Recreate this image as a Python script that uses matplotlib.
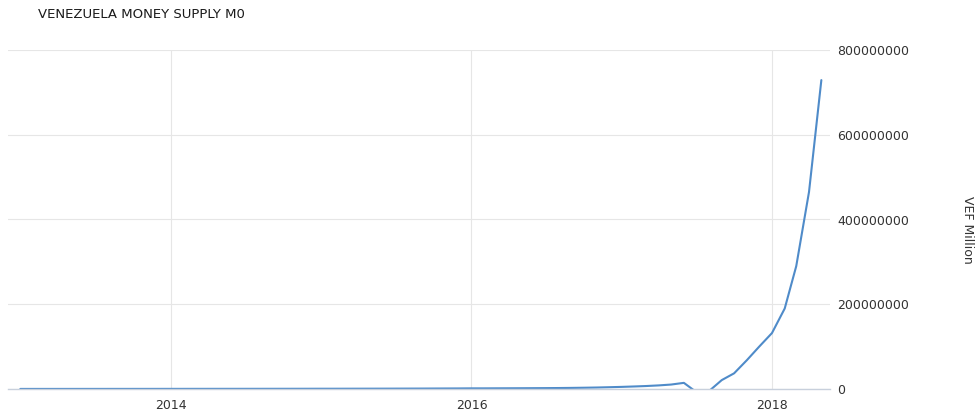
import matplotlib
matplotlib.use("Agg")
import matplotlib.pyplot as plt
import numpy as np
import pandas as pd

# Monthly values (month-end), Dec 2012 .. Apr 2018, in millions of "VEF Million"
dates = pd.date_range("2012-12-31", "2018-04-30", freq="ME")
values_m = [
    0.19,
    0.19, 0.20, 0.20, 0.21, 0.22, 0.23, 0.24, 0.25, 0.26, 0.27, 0.29, 0.33,
    0.33, 0.35, 0.36, 0.38, 0.40, 0.42, 0.44, 0.46, 0.49, 0.52, 0.56, 0.62,
    0.62, 0.66, 0.70, 0.75, 0.80, 0.86, 0.93, 1.0, 1.1, 1.2, 1.3, 1.5,
    1.5, 1.6, 1.7, 1.8, 1.95, 2.1, 2.3, 2.6, 3.0, 3.5, 4.2, 5.0,
    6.0, 7.0, 8.5, 10.5, 14.5, -7.0, -5.0, 21.0, 37.0, 68.0, 100.0, 132.0,
    190.0, 290.0, 465.0, 729.0,
]
year_ticks = ["2014", "2016", "2018"]
y_ticks = [0, 200000000, 400000000, 600000000, 800000000]
title = "VENEZUELA MONEY SUPPLY M0"
ylabel = "VEF Million"

values = np.array(values_m) * 1e6

fig = plt.figure(figsize=(9.77, 4.11), dpi=100)
ax = fig.add_axes([8 / 977, 22 / 411, 822 / 977, 339 / 411])

ax.plot(dates, values, color="#4f8bc9", linewidth=1.5,
        solid_joinstyle="round", solid_capstyle="round")

ax.set_xlim(pd.Timestamp("2012-12-01"), pd.Timestamp("2018-05-21"))
ax.set_ylim(0, 800000000)

ax.set_xticks([pd.Timestamp(f"{y}-01-01") for y in year_ticks])
ax.set_xticklabels(year_ticks)
ax.set_yticks(y_ticks)
ax.set_yticklabels([str(v) for v in y_ticks])

ax.yaxis.tick_right()
ax.tick_params(axis="both", length=0, labelsize=9, colors="#333333")
ax.tick_params(axis="y", pad=5)
ax.tick_params(axis="x", pad=7)

ax.grid(True, color="#e6e6e6", linewidth=0.8)
ax.set_axisbelow(True)
for s in ["top", "left", "right"]:
    ax.spines[s].set_visible(False)
ax.spines["bottom"].set_color("#c8d0dc")
ax.spines["bottom"].set_linewidth(1.0)

fig.text(38 / 977, 1 - 15 / 411, title, fontsize=9.5, color="#1a1a1a",
         ha="left", va="center")
fig.text(967 / 977, 1 - 230 / 411, ylabel, fontsize=9, color="#333333",
         rotation=-90, ha="center", va="center")

fig.savefig("out.png", dpi=100)
